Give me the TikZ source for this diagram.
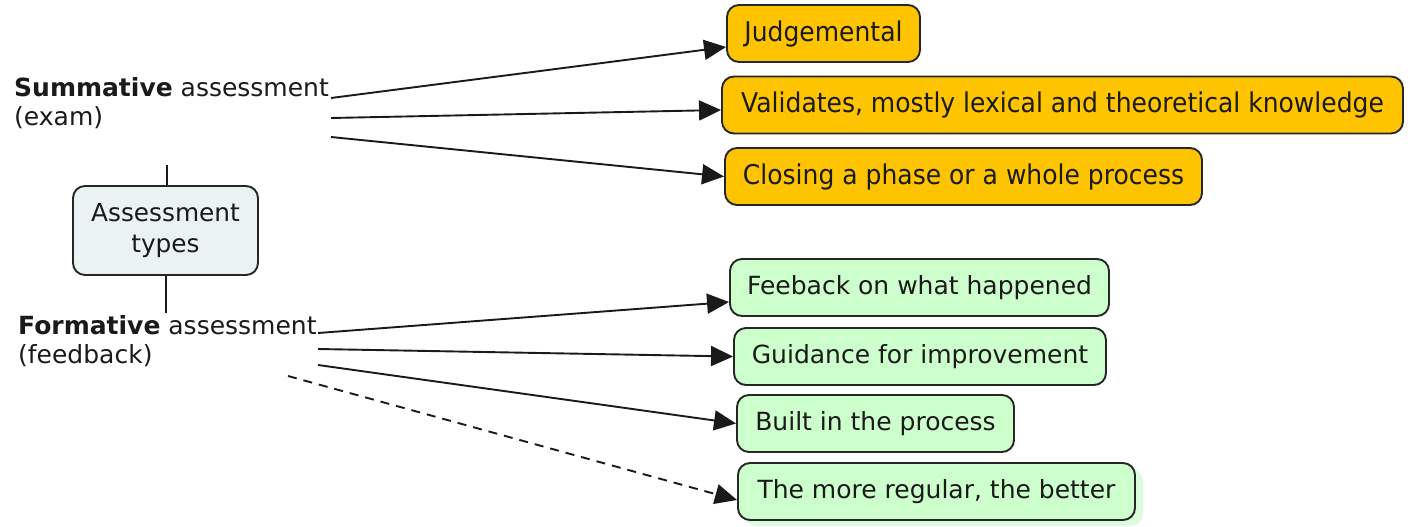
\documentclass[tikz,border=0pt]{standalone}
\usepackage{fontspec}
\setmainfont{DejaVu Sans}
\newfontfamily\narrowfont[FakeStretch=0.92]{DejaVu Sans}
\usetikzlibrary{arrows.meta,calc}
\definecolor{gold}{HTML}{FFC400}
\definecolor{mint}{HTML}{CCFFCC}
\definecolor{mintglow}{HTML}{DDFCDD}
\definecolor{pale}{HTML}{EAF2F4}
\definecolor{edge}{HTML}{262626}
\definecolor{ink}{HTML}{1A1A1A}
\begin{document}
\begin{tikzpicture}[x=1pt,y=-1pt,
  every node/.style={text=ink},
  basebox/.style={draw=edge,line width=1.9pt,rounded corners=12pt,inner sep=0pt,minimum height=57pt},
  goldbox/.style={basebox,fill=gold,font=\narrowfont\fontsize{27.2}{31}\selectfont},
  mintbox/.style={basebox,fill=mint,font=\fontsize{25}{29}\selectfont},
  rootbox/.style={basebox,fill=pale,minimum width=185pt,minimum height=89pt,align=center,font=\fontsize{24.8}{31}\selectfont},
  headtext/.style={anchor=west,align=left,inner sep=0pt,font=\fontsize{25}{29}\selectfont},
  link/.style={draw=ink,line width=1.9pt,-{Triangle[length=22pt,width=20pt]}},
  stem/.style={draw=ink,line width=1.6pt},
  glow/.style={fill=mintglow,rounded corners=12pt}]
\useasboundingbox (0,0) rectangle (1408,527);
\fill[white] (0,0) rectangle (1408,527);

% root
\node[rootbox] (A) at (165.5,230.5) {Assessment\\types};
\coordinate (At) at (167,165);
\coordinate (Ab) at (166,313);
\draw[stem] (A.north -| At) -- (At);
\draw[stem] (A.south -| Ab) -- (Ab);

% heading texts
\node[headtext] (S) at (14,103) {\textbf{Summative} assessment\\(exam)};
\node[headtext] (F0) at (18,341) {\textbf{Formative} assessment\\(feedback)};

% summative boxes
\node[goldbox,minimum width=193pt] (J) at (823.5,33.5) {Judgemental};
\node[goldbox,minimum width=681pt] (V) at (1062.5,105) {Validates, mostly lexical and theoretical knowledge};
\node[goldbox,minimum width=477pt] (C) at (963.5,176.5) {Closing a phase or a whole process};

% formative boxes
\node[mintbox,minimum width=379pt] (Fb) at (919.5,287.5) {Feeback on what happened};
\node[mintbox,minimum width=372pt] (G) at (920,356.5) {Guidance for improvement};
\node[mintbox,minimum width=277pt] (B) at (875.5,423.5) {Built in the process};
\fill[glow] (744,469) rectangle (1143,526);
\node[mintbox,minimum width=397pt] (T) at (936.5,491.5) {The more regular, the better};

% connector start points
\coordinate (s1) at (331,98);
\coordinate (s2) at (331,118);
\coordinate (s3) at (331,137);
\coordinate (f1) at (318,333);
\coordinate (f2) at (318,349);
\coordinate (f3) at (318,365);
\coordinate (f4) at (288,376);

% connectors
\draw[link] (s1) -- ($(J.west)+(0,13.5)$);
\draw[link] (s2) -- ($(V.west)+(0,5)$);
\draw[link] (s3) -- (C.west);
\draw[link] (f1) -- ($(Fb.west)+(0,14.5)$);
\draw[link] (f2) -- (G.west);
\draw[link] (f3) -- (B.west);
\draw[link,dashed,dash pattern=on 9pt off 7pt] (f4) -- ($(T.west)+(0,8.5)$);
\end{tikzpicture}
\end{document}
